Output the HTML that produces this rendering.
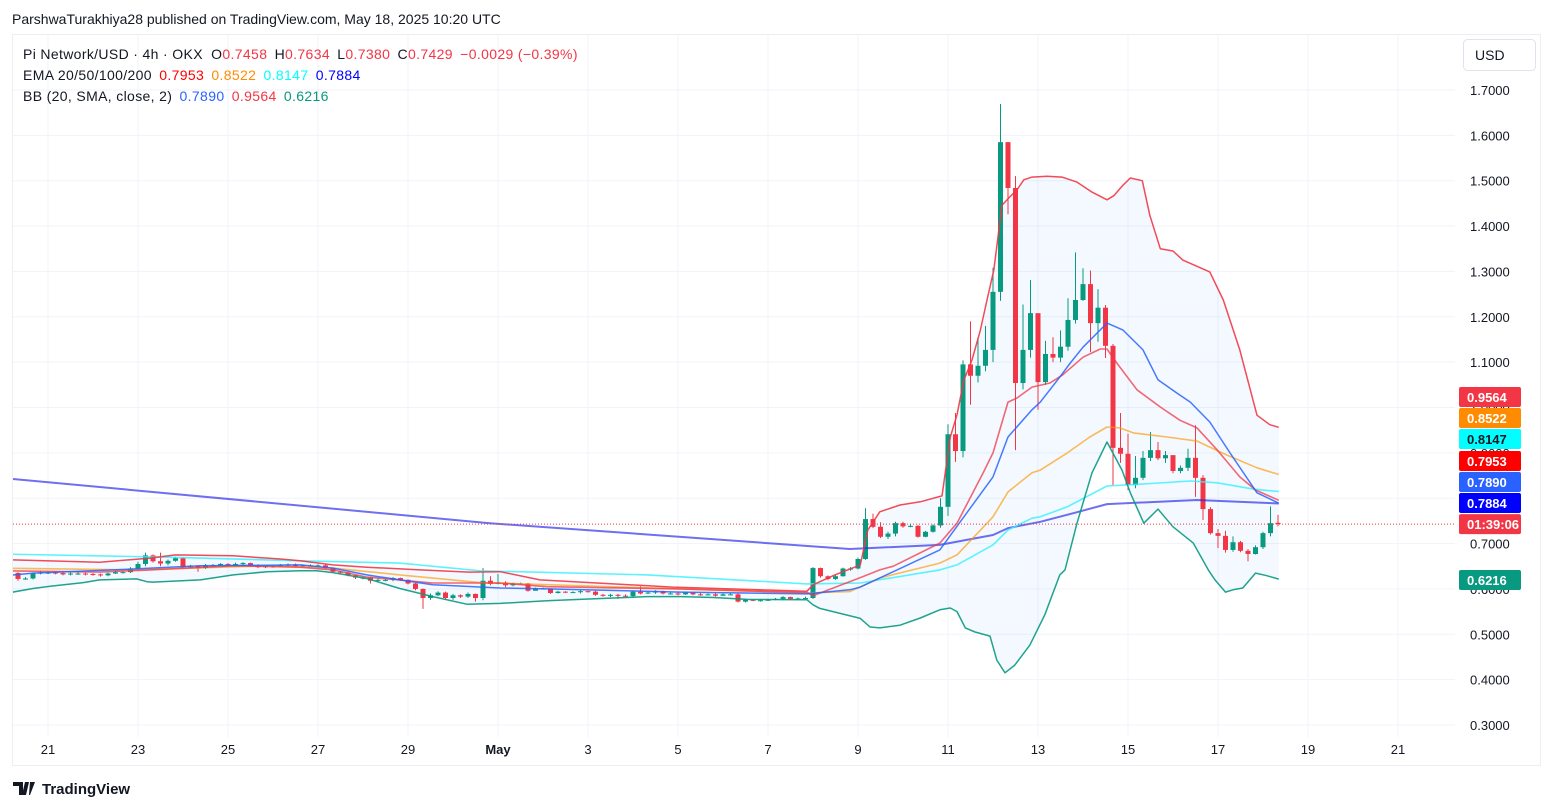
<!DOCTYPE html>
<html><head><meta charset="utf-8"><style>
html,body{margin:0;padding:0;background:#fff;}
svg{display:block;font-family:"Liberation Sans",sans-serif;}
</style></head><body>
<svg id="chart" width="1553" height="810" viewBox="0 0 1553 810" xmlns="http://www.w3.org/2000/svg">
<defs><clipPath id="plotclip"><rect x="13" y="35" width="1442" height="702"/></clipPath></defs>
<rect x="0" y="0" width="1553" height="810" fill="#ffffff"/>
<text x="12" y="24" font-size="14" fill="#131722">ParshwaTurakhiya28 published on TradingView.com, May 18, 2025 10:20 UTC</text>
<g id="grid"></g>
<rect x="12.5" y="34.5" width="1528" height="731" fill="none" stroke="#eceef2" stroke-width="1"/>
<g id="plot" clip-path="url(#plotclip)"></g>
<g id="yaxis"></g>
<g id="xaxis"></g>
<g id="tags"></g>
<g>
<rect x="1463.5" y="39.5" width="72" height="31" rx="4" fill="#fff" stroke="#e0e3eb"/>
<text x="1475" y="60" font-size="14" fill="#131722">USD</text>
</g>
<g font-size="14" letter-spacing="0.35">
<text x="23" y="59" fill="#131722">Pi Network/USD · 4h · OKX <tspan dx="4">O</tspan><tspan fill="#f23645">0.7458</tspan> <tspan dx="3">H</tspan><tspan fill="#f23645">0.7634</tspan> <tspan dx="3">L</tspan><tspan fill="#f23645">0.7380</tspan> <tspan dx="3">C</tspan><tspan fill="#f23645">0.7429</tspan> <tspan dx="3" fill="#f23645">−0.0029 (−0.39%)</tspan></text>
<text x="23" y="80" fill="#131722">EMA 20/50/100/200 <tspan dx="3" fill="#ff0000">0.7953</tspan> <tspan dx="3" fill="#ff8c00">0.8522</tspan> <tspan dx="3" fill="#00ffff">0.8147</tspan> <tspan dx="3" fill="#0000ff">0.7884</tspan></text>
<text x="23" y="101" fill="#131722">BB (20, SMA, close, 2) <tspan dx="3" fill="#2962ff">0.7890</tspan> <tspan dx="3" fill="#f23645">0.9564</tspan> <tspan dx="3" fill="#089981">0.6216</tspan></text>
</g>
<g>
<path d="M13 782h10v13h-4v-9h-6z M25 782h4l-3 13h-4z M30 782h5l-5 13h-1z" fill="#131722"/>
<text x="42" y="794" font-size="15" font-weight="bold" fill="#131722">TradingView</text>
</g>
<script>
const closes=[.635,.622,.623,.634,.636,.636,.635,.632,.634,.634,.633,.632,.630,.634,.637,.637,.645,.655,.674,.661,.656,.662,.668,.648,.650,.646,.652,.652,.655,.654,.655,.657,.652,.648,.650,.650,.653,.654,.650,.652,.652,.652,.646,.638,.636,.630,.625,.625,.618,.620,.620,.624,.620,.612,.600,.580,.586,.592,.580,.586,.583,.589,.580,.618,.611,.614,.608,.612,.612,.596,.601,.601,.591,.594,.593,.593,.595,.594,.587,.585,.587,.585,.584,.594,.590,.592,.595,.590,.590,.588,.592,.588,.587,.588,.585,.588,.588,.572,.576,.575,.575,.576,.578,.582,.578,.579,.580,.646,.628,.622,.628,.645,.645,.666,.754,.737,.715,.722,.745,.738,.739,.715,.726,.740,.781,.941,.904,1.095,1.070,1.092,1.127,1.255,1.585,1.484,1.054,1.127,1.208,1.056,1.118,1.110,1.134,1.193,1.237,1.272,1.186,1.220,1.136,.911,.898,.829,.845,.889,.906,.888,.895,.860,.867,.889,.845,.776,.723,.717,.686,.703,.684,.677,.692,.723,.745,.7429];
const highs=[.652,.637,.626,.636,.640,.639,.638,.637,.637,.637,.636,.635,.634,.636,.640,.640,.648,.660,.680,.676,.680,.665,.671,.670,.653,.652,.655,.655,.657,.657,.658,.659,.658,.654,.652,.653,.655,.656,.656,.654,.654,.654,.654,.647,.639,.637,.631,.628,.626,.623,.622,.626,.625,.621,.613,.601,.590,.595,.594,.589,.588,.592,.590,.646,.628,.633,.617,.614,.614,.613,.603,.603,.600,.596,.595,.595,.597,.596,.596,.589,.589,.589,.588,.596,.606,.594,.597,.596,.592,.593,.594,.593,.591,.590,.591,.590,.590,.590,.578,.577,.577,.578,.580,.584,.583,.581,.583,.648,.647,.630,.631,.647,.648,.669,.778,.766,.747,.726,.748,.748,.742,.741,.728,.742,.800,.963,.988,1.104,1.190,1.155,1.180,1.308,1.669,1.585,1.510,1.227,1.281,1.200,1.147,1.155,1.170,1.241,1.342,1.307,1.302,1.261,1.226,1.140,.988,.942,.893,.904,.946,.924,.904,.893,.872,.909,.961,.851,.780,.732,.728,.716,.706,.688,.696,.726,.782,.7634];
const lows=[.630,.618,.620,.621,.632,.633,.632,.630,.630,.631,.630,.629,.627,.628,.633,.634,.635,.642,.650,.658,.650,.652,.660,.646,.646,.638,.644,.649,.650,.651,.652,.651,.650,.646,.646,.647,.649,.648,.648,.649,.650,.649,.644,.636,.634,.628,.622,.621,.612,.616,.617,.617,.618,.610,.597,.556,.576,.584,.577,.576,.580,.580,.572,.575,.608,.610,.604,.606,.610,.594,.597,.599,.589,.590,.591,.591,.590,.592,.585,.583,.582,.578,.582,.583,.588,.589,.589,.588,.588,.586,.587,.586,.585,.586,.583,.585,.586,.570,.570,.573,.572,.574,.575,.575,.576,.576,.577,.578,.625,.619,.620,.627,.640,.643,.664,.734,.712,.710,.716,.735,.736,.713,.714,.724,.735,.761,.880,.890,1.006,1.055,1.080,1.100,1.235,1.426,.906,1.040,1.110,.995,1.050,1.100,1.100,1.125,1.185,1.235,1.122,1.145,1.109,.829,.878,.818,.822,.840,.882,.884,.878,.855,.855,.860,.803,.752,.720,.690,.680,.682,.681,.661,.676,.688,.716,.738];
const firstOpen=.650;
const lastOpen=.7458;
const bbUpperIdx=[0.3,11.9,18.6,22,29.7,36,38.6,43,47.5,54.6,61.2,65.3,70.6,88.3,106.2,107,109.9,113.3,114.3,115.9,118.6,121.3,124.2,125.3,126.2,127.1,128.2,129.3,130.2,131.1,132.2,133.1,134.2,135.1,136.2,138.2,140.2,142.2,144.2,146.2,147.1,148.2,149.3,150.9,151.9,153.3,155,156.3,159.9,161.7,163.9,166.2,167.9,169.1];
const bbUpperVal=[.664,.659,.668,.675,.673,.666,.662,.653,.648,.642,.637,.638,.620,.604,.595,.609,.631,.653,.730,.770,.785,.792,.805,.935,.984,1.06,1.105,1.17,1.237,1.303,1.446,1.462,1.48,1.502,1.508,1.51,1.508,1.497,1.475,1.458,1.467,1.488,1.506,1.50,1.424,1.35,1.345,1.325,1.299,1.237,1.127,.983,.962,.9564];
const bbLowerIdx=[0.3,3,5.3,9.7,11.9,16.8,18.2,19,25.3,29.7,34.2,38.6,40.8,43,47.5,51.9,56.3,60.9,65.3,71.5,75.9,84.9,89.3,93.7,98.2,106.2,107,107.9,113.3,114.6,115.9,118.6,121.3,123.9,125.3,126.2,127.3,128.6,130.6,131.5,132.6,133.9,135.9,137.9,139.9,140.6,142.2,144.2,146.2,148.2,149.3,151.1,153,155,157.7,159.7,160.6,162,163,164.3,166,167.3,169.1];
const bbLowerVal=[.593,.601,.606,.614,.620,.622,.616,.615,.620,.631,.638,.640,.640,.636,.623,.601,.583,.566,.568,.574,.577,.583,.583,.581,.577,.576,.565,.557,.535,.516,.514,.520,.536,.554,.558,.550,.514,.505,.496,.443,.415,.432,.476,.543,.631,.642,.745,.856,.924,.862,.812,.745,.776,.737,.701,.642,.620,.593,.598,.602,.635,.630,.6216];
const bbBasisIdx=[-1.4,3,16.3,25.3,38.6,43,47.5,51.9,56.3,65.3,71.5,89.3,106.2,111.9,113.3,123.9,131,133,136.2,137.3,139.9,141.3,143,146.2,148.3,151,153,155.5,157.3,159.9,162.6,166.2,169.1];
const bbBasisVal=[.628,.635,.644,.651,.653,.646,.631,.620,.609,.602,.600,.593,.589,.598,.604,.686,.847,.935,.995,1.012,1.067,1.098,1.133,1.186,1.171,1.127,1.061,1.032,1.012,.968,.900,.812,.789];
const ema20Idx=[-1.4,11.9,18.6,29.7,38.6,43,47.5,56.3,65.3,71.5,89.3,106.2,107,113.3,115.9,117.7,123.9,126.2,129.7,131,133,134.2,136.2,138.6,140.3,143,145.3,146.2,147.5,150.2,153.3,155.9,158.2,160.9,163.9,166,169.1];
const ema20Val=[.640,.637,.642,.651,.648,.642,.626,.613,.613,.605,.600,.592,.585,.625,.642,.650,.701,.745,.856,.900,1.012,1.021,1.045,1.054,1.072,1.111,1.129,1.129,1.098,1.039,1.001,.972,.955,.906,.847,.818,.7953];
const ema50Idx=[-1.4,16.3,34.2,43,51.9,62.6,89.3,106.2,111.9,115.9,123.9,126.2,131,133,136.2,137.3,140.9,143.9,146.2,147.9,149.7,154.2,158.2,162.2,166.2,169.1];
const ema50Val=[.646,.642,.651,.646,.631,.614,.600,.591,.594,.624,.657,.675,.759,.814,.856,.862,.900,.935,.957,.955,.944,.935,.926,.895,.867,.8522];
const ema100Idx=[-1.4,20.9,38.6,51.9,62.6,84.9,106.2,113.3,123.9,126.2,131,133,136.2,137.3,140.9,143.9,146.2,150.6,157.3,160.9,165.7,169.1];
const ema100Val=[.677,.670,.662,.657,.640,.631,.611,.613,.642,.653,.697,.730,.756,.759,.781,.807,.827,.831,.838,.834,.820,.8147];
const ema200Idx=[-1.4,63.9,111.9,123.9,131,133,137.3,141.7,146.2,158.2,169.1];
const ema200Val=[.845,.745,.688,.697,.719,.734,.748,.767,.787,.796,.7884];
const priceTicks=[1.7,1.6,1.5,1.4,1.3,1.2,1.1,1.0,0.9,0.8,0.7,0.6,0.5,0.4,0.3];
const dateDays=[0,2,4,6,8,10,12,14,16,18,20,22,24,26,28,30];
const dateLabels=["21","23","25","27","29","May","3","5","7","9","11","13","15","17","19","21"];
const tagValues=[0.9564,0.8522,0.8147,0.7953,0.7890,0.7884,0.6216];
const tagColors=["#f23645","#ff8c00","#00ffff","#ff0000","#2962ff","#0000ff","#089981"];
const tagSlots=[397,418,439,461,482,503,580];
const currentPrice=0.7429;

const NS="http://www.w3.org/2000/svg";
function yOf(p){return 90+(1.7-p)*453.57;}
function xOfIdx(i){return 10.5+7.5*i;}
function xOfDay(d){return 48+45*d;}
function mk(tag,attrs,parent){const e=document.createElementNS(NS,tag);for(const k in attrs)e.setAttribute(k,attrs[k]);parent.appendChild(e);return e;}
const grid=document.getElementById('grid'),plot=document.getElementById('plot'),yaxis=document.getElementById('yaxis'),xaxis=document.getElementById('xaxis'),tags=document.getElementById('tags');

priceTicks.forEach(p=>{
  const y=yOf(p);
  const g=mk('line',{x1:13,x2:1455,y1:y,y2:y,stroke:'#f0f3fa','stroke-width':1},grid);
  
  
  const t=mk('text',{x:1470,y:y+5,'font-size':13,fill:'#131722'},yaxis);
  t.textContent=p.toFixed(4);
  
  
});
dateDays.forEach((d,k)=>{
  const x=xOfDay(d);
  const g=mk('line',{x1:x,x2:x,y1:35,y2:737,stroke:'#f0f3fa','stroke-width':1},grid);
  
  
  const t=mk('text',{x:x,y:754,'font-size':13,fill:'#131722','text-anchor':'middle','font-weight':dateLabels[k]==='May'?'bold':'normal'},xaxis);
  t.textContent=dateLabels[k];
  
  
});

function pts(idx,val){return idx.map((i,k)=>xOfIdx(i).toFixed(1)+','+yOf(val[k]).toFixed(1));}
const up=pts(bbUpperIdx,bbUpperVal),lo=pts(bbLowerIdx,bbLowerVal).reverse();
const fill=mk('polygon',{points:up.concat(lo).join(' '),fill:'#2196f3','fill-opacity':0.055},plot);



const cg=mk('g',{},plot);


closes.forEach((c,i)=>{
  const o=i===closes.length-1?lastOpen:(i===0?firstOpen:closes[i-1]);
  const col=c>=o?'#089981':'#f23645';
  const x=xOfIdx(i);
  const w=mk('line',{x1:x,x2:x,y1:yOf(highs[i]),y2:yOf(lows[i]),stroke:col,'stroke-width':1},cg);
  
  
  const top=yOf(Math.max(o,c)),bot=yOf(Math.min(o,c));
  const b=mk('rect',{x:x-2.5,y:top,width:5,height:Math.max(1,bot-top),fill:col},cg);
  
  
});

function line(idx,val,color,w,op,name){
  const l=mk('polyline',{points:pts(idx,val).join(' '),fill:'none',stroke:color,'stroke-width':w,'stroke-opacity':op,'stroke-linejoin':'round'},plot);
  
  
}
line(ema200Idx,ema200Val,'#2222e8',2,0.65,'ema-200-line');
line(ema100Idx,ema100Val,'#33f0ff',1.6,0.8,'ema-100-line');
line(ema50Idx,ema50Val,'#ff9800',1.6,0.65,'ema-50-line');
line(ema20Idx,ema20Val,'#f23645',1.6,0.75,'ema-20-line');
line(bbBasisIdx,bbBasisVal,'#2962ff',1.5,0.85,'bb-basis-line');
line(bbUpperIdx,bbUpperVal,'#f23645',1.5,0.9,'bb-upper-line');
line(bbLowerIdx,bbLowerVal,'#089981',1.5,0.9,'bb-lower-line');

const cp=mk('line',{x1:13,x2:1455,y1:yOf(currentPrice),y2:yOf(currentPrice),stroke:'#f23645','stroke-width':1,'stroke-dasharray':'1 2'},plot);



function tag(y,col,txt,name,tc){
  const r=mk('rect',{x:1459,y:y-10,width:62,height:20,rx:2,fill:col},tags);
  
  
  const t=mk('text',{x:1467,y:y+5,'font-size':13,'font-weight':'bold',fill:tc},tags);
  t.textContent=txt;
  
  
}
tagValues.forEach((v,k)=>{tag(tagSlots[k],tagColors[k],v.toFixed(4),'price-tag',k===2?'#131722':'#ffffff');});
tag(yOf(currentPrice),'#f23645','01:39:06','countdown-tag','#ffffff');
</script>
</svg>
</body></html>
